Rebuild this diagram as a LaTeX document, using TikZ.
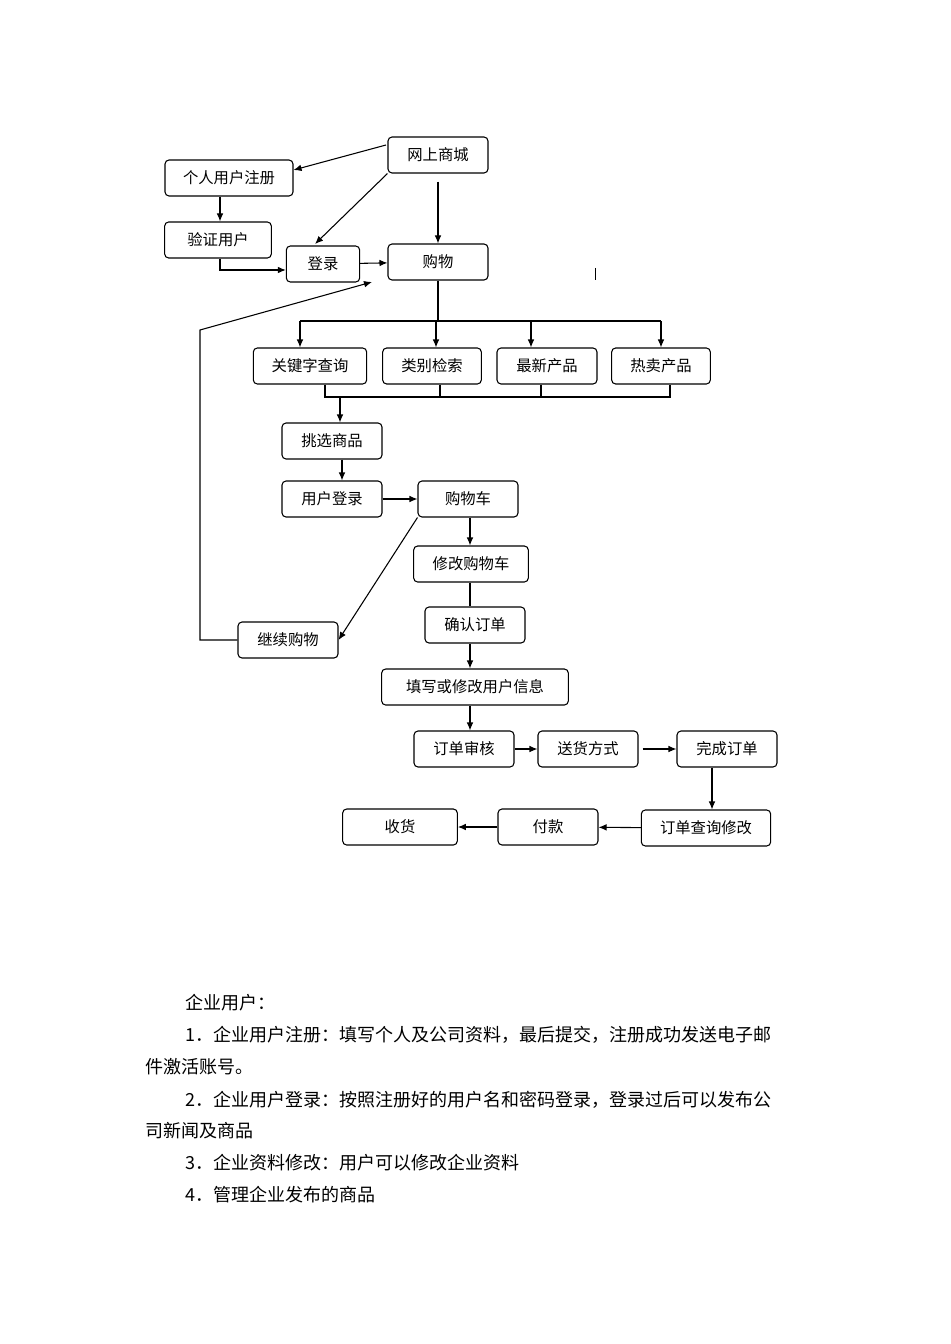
\documentclass[tikz,border=0pt]{standalone}
\usepackage{fontspec}
\setmainfont{Noto Sans CJK SC}
\usetikzlibrary{arrows.meta}
\begin{document}
\begin{tikzpicture}[x=0.75pt,y=-0.75pt,
 box/.style={draw,thick,rounded corners=3pt,minimum height=27pt,inner sep=0pt,font=\fontsize{11.5}{13}\selectfont},
 ar/.style={thick,-{Latex[length=6pt,width=5pt]}},
 ln/.style={thick},
 txt/.style={anchor=west,inner sep=0pt,font=\fontsize{13.5}{15}\selectfont}]
\useasboundingbox (0,0) rectangle (950,1344);
\node[box,minimum width=75pt] (wssc) at (438,155) {网上商城};
\node[box,minimum width=96pt] (grzc) at (229,178) {个人用户注册};
\node[box,minimum width=80pt] (yzyh) at (218,240) {验证用户};
\node[box,minimum width=55pt] (dl) at (323,264) {登录};
\node[box,minimum width=75pt] (gw) at (438,262) {购物};
\node[box,minimum width=85pt] (gjz) at (310,366) {关键字查询};
\node[box,minimum width=74pt] (lb) at (432,366) {类别检索};
\node[box,minimum width=75pt] (zx) at (547,366) {最新产品};
\node[box,minimum width=74pt] (rm) at (661,366) {热卖产品};
\node[box,minimum width=75pt] (tx) at (332,441) {挑选商品};
\node[box,minimum width=75pt] (yhdl) at (332,499) {用户登录};
\node[box,minimum width=75pt] (gwc) at (468,499) {购物车};
\node[box,minimum width=86pt] (xg) at (471,564) {修改购物车};
\node[box,minimum width=75pt] (qr) at (475,625) {确认订单};
\node[box,minimum width=75pt] (jx) at (288,640) {继续购物};
\node[box,minimum width=140pt] (tx2) at (475,687) {填写或修改用户信息};
\node[box,minimum width=75pt] (sh) at (464,749) {订单审核};
\node[box,minimum width=75pt] (sf) at (588,749) {送货方式};
\node[box,minimum width=75pt] (wc) at (727,749) {完成订单};
\node[box,minimum width=97pt] (cx) at (706,828) {订单查询修改};
\node[box,minimum width=75pt] (fk) at (548,827) {付款};
\node[box,minimum width=86pt] (sh2) at (400,827) {收货};
% connectors
\draw[ar] (386,145) -- (grzc.east |- 0,170);
\draw[ar] (wssc.south west) -- (315,244);
\draw[ar] (wssc.south) ++(0,8) -- (gw.north);
\draw[ar] (grzc.south -| 220,0) -- (yzyh.north -| 220,0);
\draw[ar] (yzyh.south -| 220,0) -- (220,270) -- (dl.west |- 0,270);
\draw[ar] (dl) -- (gw);
\draw[ln] (gw.south) -- (438,321);
\draw[ln] (300,321) -- (661,321);
\draw[ar] (300,321) -- (gjz.north -| 300,0);
\draw[ar] (436,321) -- (lb.north -| 436,0);
\draw[ar] (531,321) -- (zx.north -| 531,0);
\draw[ar] (661,321) -- (rm.north);
\draw[ln] (gjz.south -| 325,0) -- (325,397) -- (670,397) -- (rm.south -| 670,0);
\draw[ln] (lb.south -| 440,0) -- (440,397);
\draw[ln] (zx.south -| 541,0) -- (541,397);
\draw[ar] (340,397) -- (tx.north -| 340,0);
\draw[ar] (tx.south -| 342,0) -- (yhdl.north -| 342,0);
\draw[ar] (yhdl) -- (gwc);
\draw[ar] (gwc.south -| 470,0) -- (xg.north -| 470,0);
\draw[ar] (gwc.south west) -- (jx.east);
\draw[ar] (jx.west) -- (200,640) -- (200,330) -- (372,282);
\draw[ln] (xg.south -| 470,0) -- (qr.north -| 470,0);
\draw[ar] (qr.south -| 470,0) -- (tx2.north -| 470,0);
\draw[ar] (tx2.south -| 470,0) -- (sh.north -| 470,0);
\draw[ar] (sh) -- (sf);
\draw[ar] (sf.east) ++(4,0) -- (wc.west);
\draw[ar] (wc.south -| 712,0) -- (cx.north -| 712,0);
\draw[ar] (cx) -- (fk);
\draw[ar] (fk) -- (sh2);
\draw (595,268) -- (595,280);
% text
\node[txt] (t0) at (185,1003) {企业用户：};
\node[txt] (t1) at (185,1035) {1．企业用户注册：填写个人及公司资料，最后提交，注册成功发送电子邮};
\node[txt] (t2) at (145,1067) {件激活账号。};
\node[txt] (t3) at (185,1100) {2．企业用户登录：按照注册好的用户名和密码登录，登录过后可以发布公};
\node[txt] (t4) at (145,1131) {司新闻及商品};
\node[txt] (t5) at (185,1163) {3．企业资料修改：用户可以修改企业资料};
\node[txt] (t6) at (185,1195) {4．管理企业发布的商品};
\end{tikzpicture}
\end{document}
